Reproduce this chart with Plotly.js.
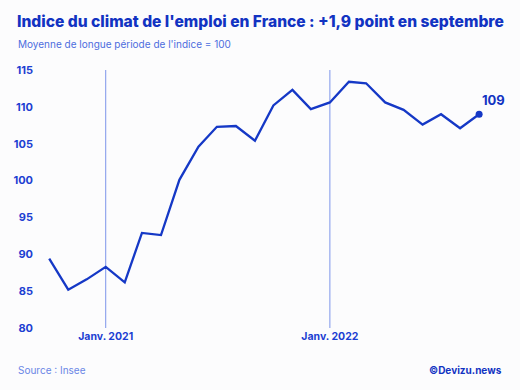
<!DOCTYPE html>
<html>
<head>
<meta charset="utf-8">
<script src="https://cdn.plot.ly/plotly-3.0.1.min.js"></script>
<style>
  html, body { margin: 0; padding: 0; background: #fcfcfd; }
  #chart { width: 520px; height: 390px; }
</style>
</head>
<body>
<div id="chart"></div>
<script>
// Indice du climat de l'emploi (Insee), octobre 2020 - septembre 2022
const months = [
  '2020-10-01', '2020-11-01', '2020-12-01',
  '2021-01-01', '2021-02-01', '2021-03-01', '2021-04-01', '2021-05-01', '2021-06-01',
  '2021-07-01', '2021-08-01', '2021-09-01', '2021-10-01', '2021-11-01', '2021-12-01',
  '2022-01-01', '2022-02-01', '2022-03-01', '2022-04-01', '2022-05-01', '2022-06-01',
  '2022-07-01', '2022-08-01', '2022-09-01'
];
const indexValues = [
  89.4, 85.2, 86.6,
  88.3, 86.2, 92.9, 92.6, 100.1, 104.6,
  107.3, 107.4, 105.4, 110.2, 112.3, 109.7,
  110.6, 113.4, 113.2, 110.6, 109.6, 107.6,
  109.0, 107.1, 109.0
];
const tickDates = ['2021-01-01', '2022-01-01'];
const tickLabels = ['Janv. 2021', 'Janv. 2022'];
const yTicks = [80, 85, 90, 95, 100, 105, 110, 115];

const blue = '#1538c6';
const textBlue = '#1d3fd2';
const lightBlue = '#6a86e6';
const font = 'Inter, "Open Sans", sans-serif';

const lastX = months[months.length - 1];
const lastY = indexValues[indexValues.length - 1];

const traces = [
  {
    x: months, y: indexValues, type: 'scatter', mode: 'lines',
    line: { color: blue, width: 2.3 }, hoverinfo: 'skip'
  },
  {
    x: [lastX], y: [lastY], type: 'scatter', mode: 'markers',
    marker: { color: blue, size: 7 }, hoverinfo: 'skip'
  }
];

const layout = {
  width: 520, height: 390,
  margin: { l: 40, r: 20, t: 70, b: 62 },
  paper_bgcolor: '#fcfcfd', plot_bgcolor: '#fcfcfd',
  showlegend: false,
  font: { family: font, color: textBlue },
  xaxis: {
    type: 'date',
    range: ['2020-09-16', '2022-10-05'],
    tickvals: tickDates, ticktext: tickLabels,
    showgrid: false, zeroline: false, showline: false, ticks: '',
    tickfont: { family: font, size: 10.5, color: textBlue, weight: 700 },
    fixedrange: true
  },
  yaxis: {
    range: [80, 115],
    tickvals: yTicks,
    showgrid: false, zeroline: false, showline: false, ticks: '',
    ticklabelstandoff: 6,
    tickfont: { family: font, size: 11, color: textBlue, weight: 700 },
    fixedrange: true
  },
  shapes: tickDates.map(d => ({
    type: 'line', xref: 'x', yref: 'y',
    x0: d, x1: d, y0: 80, y1: 115,
    line: { color: '#7d95ea', width: 1 }, layer: 'below'
  })),
  annotations: [
    {
      text: "Indice du climat de l'emploi en France : +1,9 point en septembre",
      xref: 'paper', yref: 'paper', x: 0, y: 1.0, xanchor: 'left', yanchor: 'middle',
      showarrow: false,
      font: { family: font, size: 15.6, color: '#1233c2', weight: 800 }
    },
    {
      text: "Moyenne de longue période de l'indice = 100",
      xref: 'paper', yref: 'paper', x: 0, y: 1.0, xanchor: 'left', yanchor: 'middle',
      showarrow: false,
      font: { family: font, size: 10, color: '#4d6ddd' }
    },
    {
      text: 'Source : Insee',
      xref: 'paper', yref: 'paper', x: 0, y: 0, xanchor: 'left', yanchor: 'middle',
      showarrow: false,
      font: { family: font, size: 10, color: lightBlue }
    },
    {
      text: '©Devizu.news',
      xref: 'paper', yref: 'paper', x: 1.0, y: 0, xanchor: 'right', yanchor: 'middle',
      showarrow: false,
      font: { family: font, size: 10, color: '#1233c2', weight: 700 }
    },
    {
      text: String(Math.round(lastY)),
      xref: 'x', yref: 'y', x: lastX, y: lastY,
      xanchor: 'left', yanchor: 'bottom', xshift: 1, yshift: 4,
      showarrow: false,
      font: { family: font, size: 13, color: '#1233c2', weight: 700 }
    }
  ]
};

// pixel placement of the header and footer lines
const plotH = 390 - layout.margin.t - layout.margin.b;
const plotW = 520 - layout.margin.l - layout.margin.r;
const px = v => (v - layout.margin.l) / plotW;
const py = v => (390 - layout.margin.b - v) / plotH;
layout.annotations[0].x = px(15); layout.annotations[0].y = py(22);
layout.annotations[1].x = px(16); layout.annotations[1].y = py(44);
layout.annotations[2].x = px(16); layout.annotations[2].y = py(370);
layout.annotations[3].x = px(504); layout.annotations[3].y = py(370);

Plotly.newPlot('chart', traces, layout, { displayModeBar: false, staticPlot: true });
</script>
</body>
</html>
